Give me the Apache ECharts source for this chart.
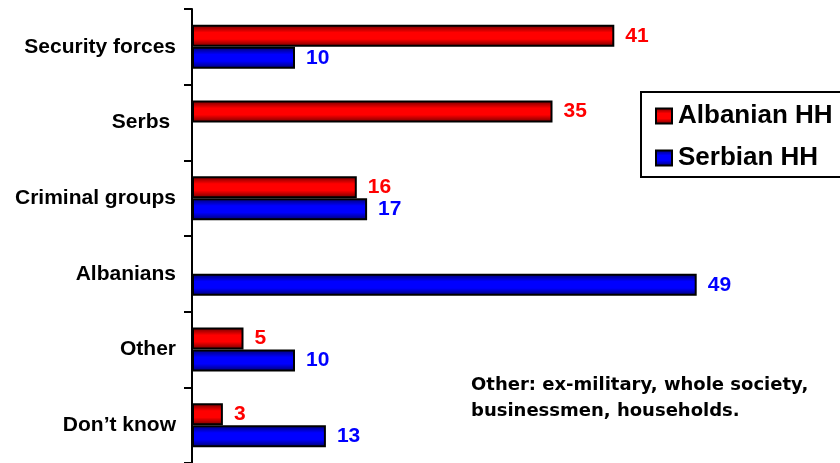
<!DOCTYPE html>
<html>
<head>
<meta charset="utf-8">
<script src="https://cdn.jsdelivr.net/npm/echarts@6/dist/echarts.min.js"></script>
<style>html,body{margin:0;padding:0;background:#fff}#c{width:840px;height:463px}</style>
</head>
<body>
<div id="c"></div>
<script>
const categories = ['Security forces', 'Serbs ', 'Criminal groups', 'Albanians', 'Other', 'Don\u2019t know'];
const albanianHH = [41, 35, 16, '-', 5, 3];
const serbianHH = [10, '-', 17, 49, 10, 13];
const seriesNames = ['Albanian HH', 'Serbian HH'];
const noteLines = ['Other: ex-military, whole society,', 'businessmen, households.'];

const FONT = '"Liberation Sans", Arial, sans-serif';
function grad(dark, bright) {
  return new echarts.graphic.LinearGradient(0, 0, 0, 1, [
    {offset: 0, color: dark},
    {offset: 0.35, color: bright},
    {offset: 0.65, color: bright},
    {offset: 1, color: dark}
  ]);
}
const chart = echarts.init(document.getElementById('c'));
function mkSeries(name, data, dark, bright, txt) {
  return {
    name: name, type: 'bar', data: data,
    barWidth: 22, barGap: '0%',
    itemStyle: {color: grad(dark, bright), borderColor: '#000', borderWidth: 2},
    label: {show: true, position: 'right', distance: 11, color: txt,
      fontFamily: FONT, fontWeight: 'bold', fontSize: 21},
    emphasis: {disabled: true},
    animation: false
  };
}
chart.setOption({
  animation: false,
  grid: {left: 192, top: 9, width: 618, height: 459},
  xAxis: {type: 'value', min: 0, max: 60, show: false},
  yAxis: {
    type: 'category', data: categories, inverse: true,
    axisLine: {show: true, lineStyle: {color: '#000', width: 2}},
    axisTick: {show: true, inside: false, length: 8, lineStyle: {color: '#000', width: 2}},
    axisLabel: {margin: 16, color: '#000', fontFamily: FONT, fontWeight: 'bold', fontSize: 21}
  },
  legend: {
    orient: 'vertical', left: 650, top: 98, itemWidth: 16, itemHeight: 15, itemGap: 16,
    icon: 'rect',
    textStyle: {fontFamily: FONT, fontWeight: 'bold', fontSize: 26, color: '#000', padding: [0, 0, 0, 1]},
    data: seriesNames
  },
  graphic: [
    {type: 'rect', shape: {x: 641, y: 92, width: 240, height: 85},
      style: {fill: 'none', stroke: '#000', lineWidth: 2}, silent: true},
    {type: 'text', left: 471, top: 372,
      style: {text: noteLines.join('\n'), font: 'bold 18px "DejaVu Sans"', fill: '#000', lineHeight: 26}}
  ],
  series: [
    mkSeries(seriesNames[0], albanianHH, '#6a0000', '#ff0000', '#ff0000'),
    mkSeries(seriesNames[1], serbianHH, '#00006a', '#0000ff', '#0000ff')
  ]
});
</script>
</body>
</html>
